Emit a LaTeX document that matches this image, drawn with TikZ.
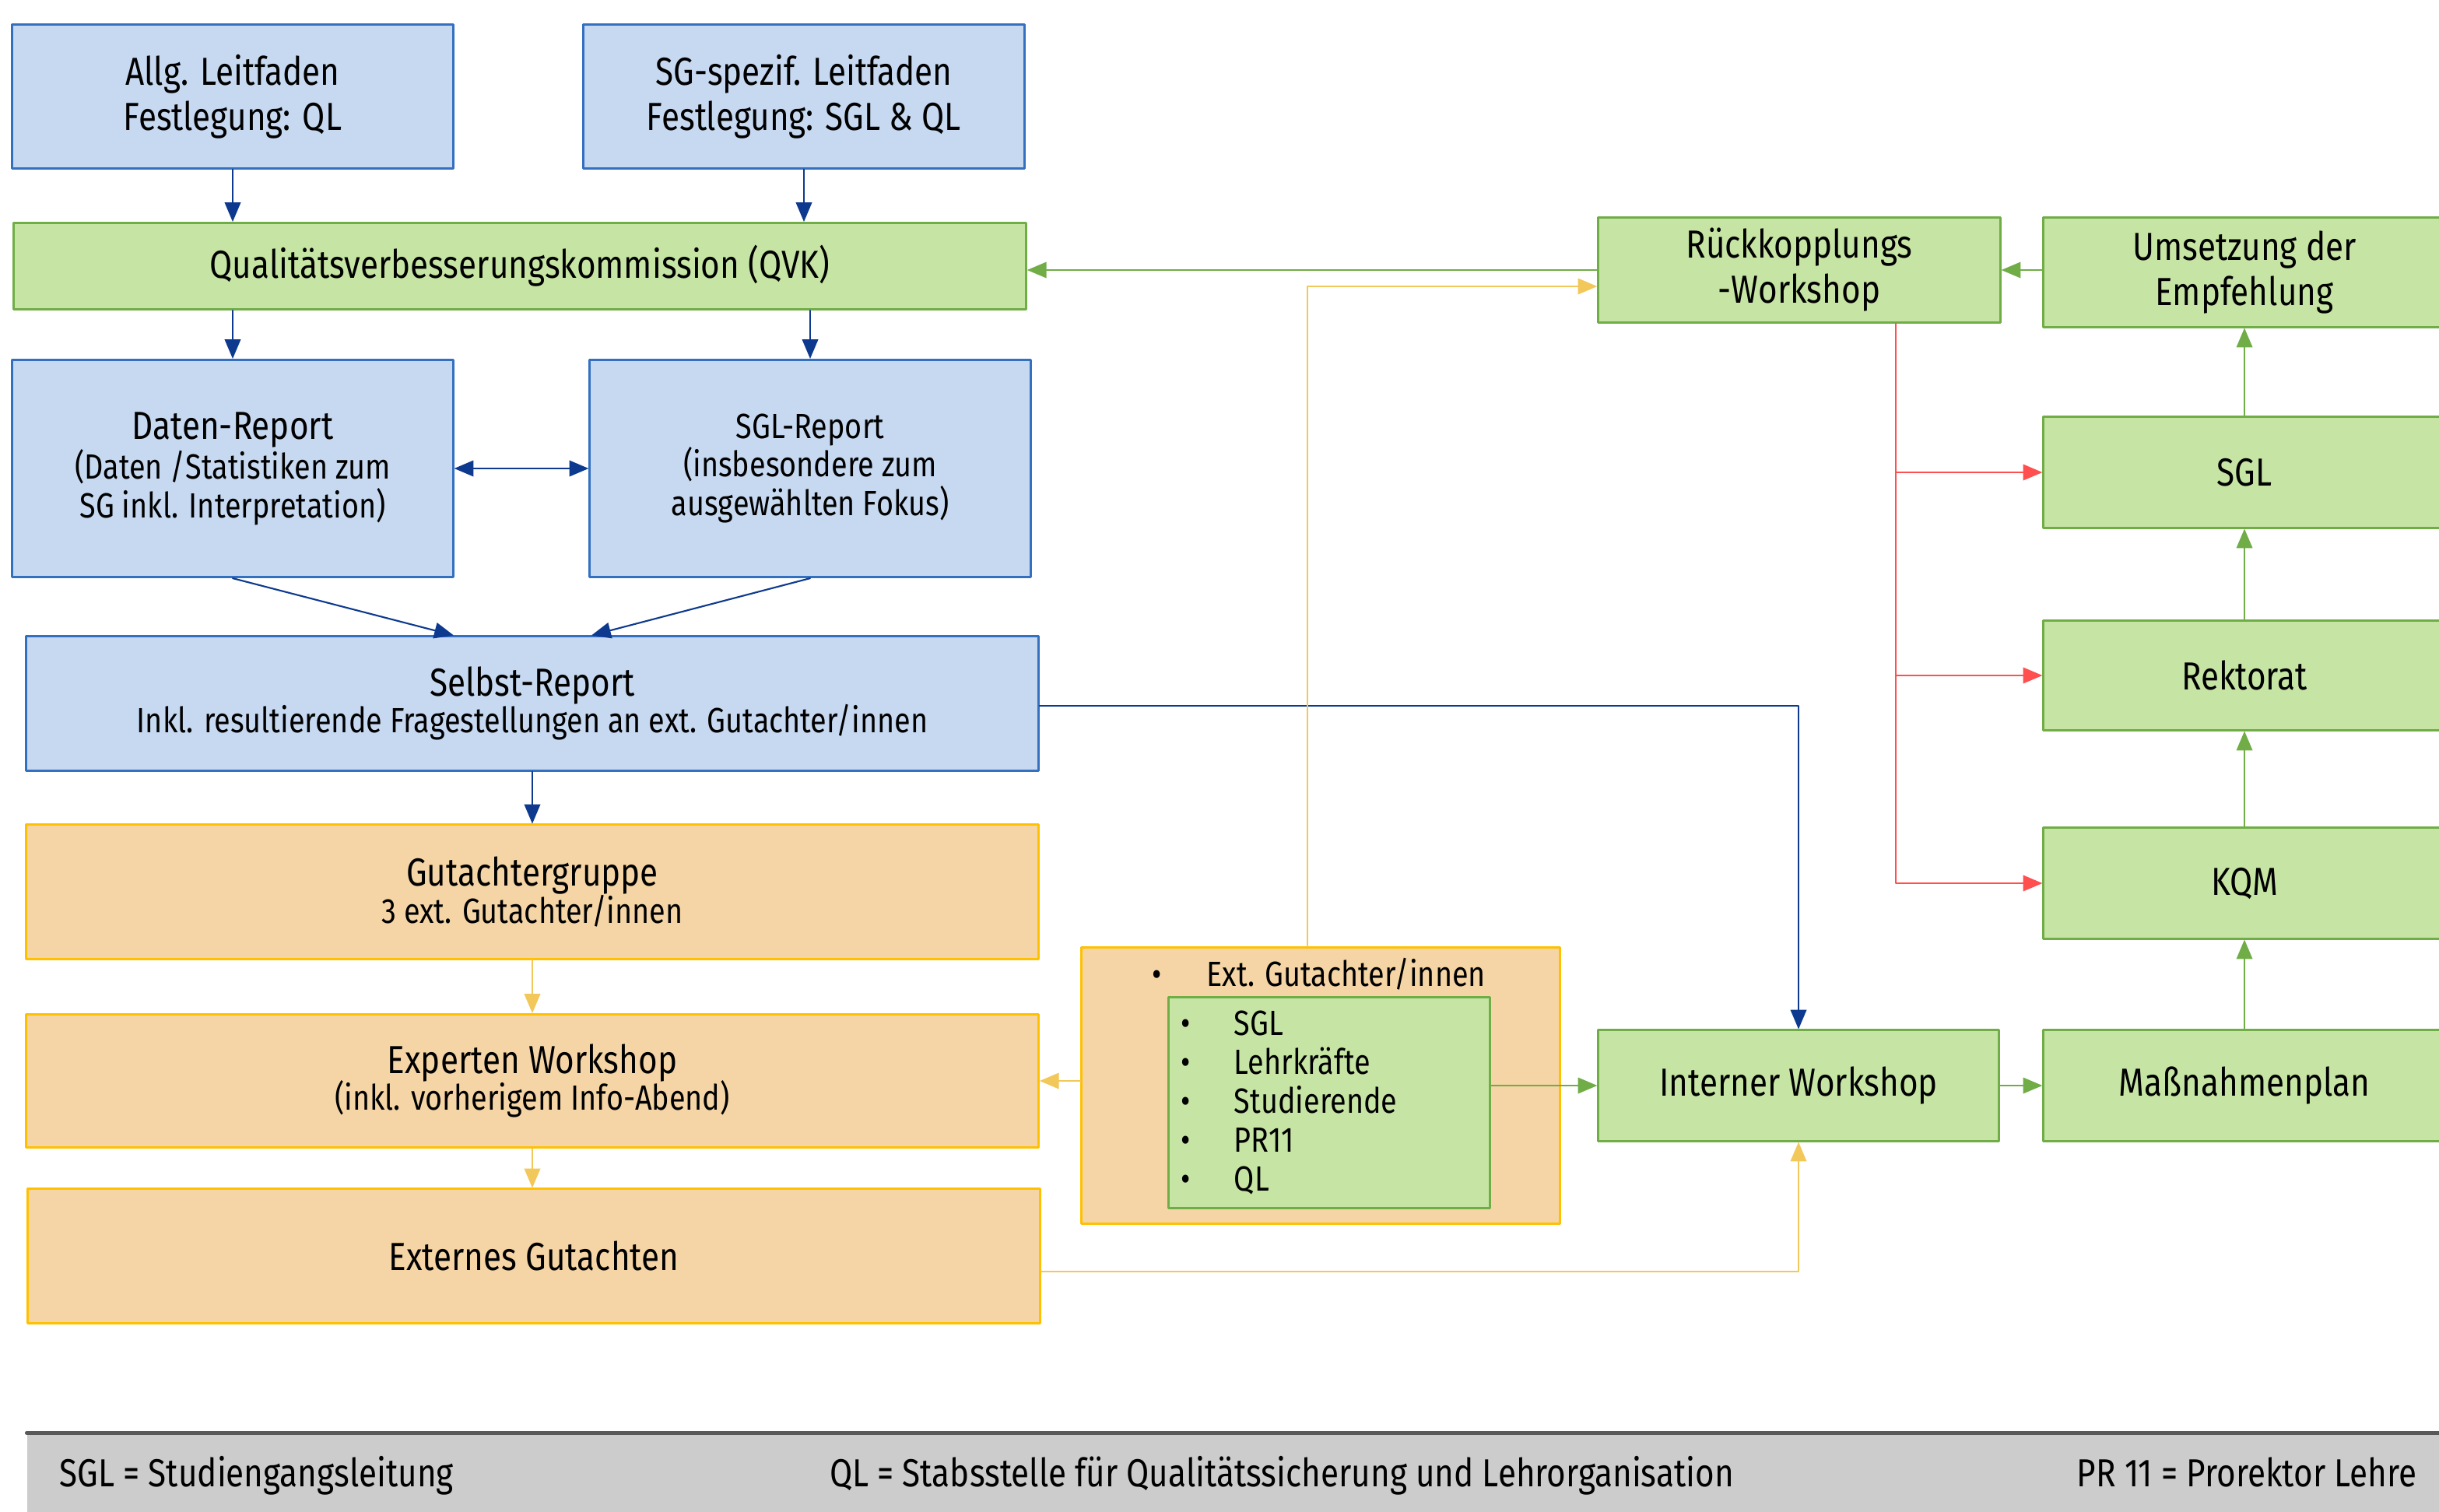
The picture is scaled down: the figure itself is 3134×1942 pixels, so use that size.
\documentclass[tikz,border=0pt]{standalone}
\usepackage{fontspec}
\setmainfont{Fira Sans}[FakeStretch=0.84]
\usetikzlibrary{arrows}
\definecolor{bluefill}{HTML}{C6D9F1}
\definecolor{blueline}{HTML}{3370C0}
\definecolor{bluearr}{HTML}{0D3A8E}
\definecolor{greenfill}{HTML}{C6E5A4}
\definecolor{greenline}{HTML}{70AD47}
\definecolor{orangefill}{HTML}{F5D5A5}
\definecolor{orangeline}{HTML}{FFC000}
\definecolor{yellowarr}{HTML}{F2C85B}
\definecolor{redarr}{HTML}{FF4F4F}
\definecolor{legendfill}{HTML}{CCCCCC}
\definecolor{legendline}{HTML}{595959}
\newcommand{\bigtxt}{\fontsize{14.3}{16.5}\selectfont}
\newcommand{\smalltxt}{\fontsize{12.8}{14.2}\selectfont}
\newcommand{\itembullet}{\makebox[0.68cm][l]{\textbullet}}

\begin{document}
\begin{tikzpicture}[line cap=round,line join=round,>=triangle 45,x=0.01cm,y=-0.01cm,
	box/.style={rectangle,inner sep=0pt,align=center,line width=0.85pt,font=\bigtxt},
	bluebox/.style={box,draw=blueline,fill=bluefill},
	greenbox/.style={box,draw=greenline,fill=greenfill},
	orangebox/.style={box,draw=orangeline,fill=orangefill},
	bluearrow/.style={->,line width=0.6pt,draw=bluearr},
	greenarrow/.style={->,line width=0.6pt,draw=greenline},
	yellowarrow/.style={->,line width=0.6pt,draw=yellowarr},
	redarrow/.style={->,line width=0.6pt,draw=redarr}]
	\clip(0,0) rectangle (3134,1942);
	% linke Spalte
	\node[bluebox,minimum width=5.66cm,minimum height=1.84cm] (allg) at (299,124) {Allg. Leitfaden\\Festlegung: QL};
	\node[bluebox,minimum width=5.66cm,minimum height=1.84cm] (sgspez) at (1033,124) {SG-spezif. Leitfaden\\Festlegung: SGL \& QL};
	\node[greenbox,minimum width=13cm,minimum height=1.11cm] (qvk) at (668,342) {Qualitätsverbesserungskommission (QVK)};
	\node[bluebox,minimum width=5.66cm,minimum height=2.79cm] (daten) at (299,602) {Daten-Report\\[-2pt]\smalltxt (Daten /Statistiken zum\\[-2.3pt]\smalltxt SG inkl. Interpretation)};
	\node[bluebox,minimum width=5.66cm,minimum height=2.79cm,font=\smalltxt] (sglrep) at (1041,602) {SGL-Report\\(insbesondere zum\\ausgewählten Fokus)};
	\node[bluebox,minimum width=13cm,minimum height=1.72cm] (selbst) at (684,904) {Selbst-Report\\[-3pt]\smalltxt Inkl. resultierende Fragestellungen an ext. Gutachter/innen};
	\node[orangebox,minimum width=13cm,minimum height=1.72cm] (gruppe) at (684,1146) {Gutachtergruppe\\[-3pt]\smalltxt 3 ext. Gutachter/innen};
	\node[orangebox,minimum width=13cm,minimum height=1.71cm] (experten) at (684,1389) {Experten Workshop\\[-3pt]\smalltxt (inkl. vorherigem Info-Abend)};
	\node[orangebox,minimum width=13cm,minimum height=1.72cm] (extern) at (686,1614) {Externes Gutachten};
	% Mitte
	\node[orangebox,minimum width=6.14cm,minimum height=3.54cm] (extgut) at (1697,1395) {};
	\node[anchor=west,inner sep=0pt,font=\smalltxt] (extlabel) at (1480,1252) {\makebox[0.7cm][l]{\textbullet}Ext. Gutachter/innen};
	\node[greenbox,minimum width=4.12cm,minimum height=2.7cm,font=\smalltxt,align=left,text width=3.8cm] (inner) at (1708,1417)
		{\itembullet SGL\\\itembullet Lehrkräfte\\\itembullet Studierende\\\itembullet PR11\\\itembullet QL};
	\node[greenbox,minimum width=5.14cm,minimum height=1.42cm] (intern) at (2311,1395) {Interner Workshop};
	\node[greenbox,minimum width=5.16cm,minimum height=1.34cm] (rueck) at (2312,347) {Rückkopplungs\\-Workshop};
	% rechte Spalte
	\node[greenbox,minimum width=5.16cm,minimum height=1.4cm] (umsetz) at (2884,350) {Umsetzung der\\Empfehlung};
	\node[greenbox,minimum width=5.16cm,minimum height=1.42cm] (sgl) at (2884,607) {SGL};
	\node[greenbox,minimum width=5.16cm,minimum height=1.4cm] (rektorat) at (2884,868) {Rektorat};
	\node[greenbox,minimum width=5.16cm,minimum height=1.42cm] (kqm) at (2884,1135) {KQM};
	\node[greenbox,minimum width=5.16cm,minimum height=1.42cm] (massn) at (2884,1395) {Maßnahmenplan};
	% Legende
	\node[rectangle,fill=legendfill,minimum width=31.64cm,minimum height=1.58cm,inner sep=0pt] (legend) at (1618,1921) {};
	\draw[line width=1.4pt,draw=legendline] (legend.north west) -- (legend.north east);
	\node[anchor=base west,inner sep=0pt,font=\bigtxt] (legsgl) at (76,1910) {SGL = Studiengangsleitung};
	\node[anchor=base,inner sep=0pt,font=\bigtxt] (legql) at (1647,1910) {QL = Stabsstelle für Qualitätssicherung und Lehrorganisation};
	\node[anchor=base east,inner sep=0pt,font=\bigtxt] (legpr) at (3106,1910) {PR 11 = Prorektor Lehre};
	% Verbindungen
	\draw[bluearrow] (allg.south) -- (allg.south |- qvk.north);
	\draw[bluearrow] (sgspez.south) -- (sgspez.south |- qvk.north);
	\draw[bluearrow] (qvk.south -| daten.north) -- (daten.north);
	\draw[bluearrow] (qvk.south -| sglrep.north) -- (sglrep.north);
	\draw[bluearrow,<->] (daten.east) -- (sglrep.west);
	\draw[bluearrow] (daten.south) -- ([xshift=-1.01cm]selbst.north);
	\draw[bluearrow] (sglrep.south) -- ([xshift=0.76cm]selbst.north);
	\draw[bluearrow] (selbst.south) -- (selbst.south |- gruppe.north);
	\draw[bluearrow] ([yshift=-0.03cm]selbst.east) -| (intern.north);
	\draw[yellowarrow] (gruppe.south) -- (experten.north);
	\draw[yellowarrow] (experten.south) -- (experten.south |- extern.north);
	\draw[yellowarrow] (extgut.west |- experten.east) -- (experten.east);
	\draw[yellowarrow] ([yshift=-0.2cm]extern.east) -| (intern.south);
	\draw[yellowarrow] ([xshift=-0.17cm]extgut.north) |- ([yshift=-0.21cm]rueck.west);
	\draw[greenarrow] (rueck.west) -- (rueck.west -| qvk.east);
	\draw[greenarrow] (umsetz.west |- rueck.east) -- (rueck.east);
	\draw[greenarrow] (inner.east |- intern.west) -- (intern.west);
	\draw[greenarrow] (intern.east) -- (massn.west);
	\draw[greenarrow] (massn.north) -- (kqm.south);
	\draw[greenarrow] (kqm.north) -- (rektorat.south);
	\draw[greenarrow] (rektorat.north) -- (sgl.south);
	\draw[greenarrow] (sgl.north) -- (umsetz.south);
	\draw[redarrow] ([xshift=1.24cm]rueck.south) |- (kqm.west);
	\draw[redarrow] ([xshift=1.24cm]rueck.south |- sgl.west) -- (sgl.west);
	\draw[redarrow] ([xshift=1.24cm]rueck.south |- rektorat.west) -- (rektorat.west);
\end{tikzpicture}
\end{document}
